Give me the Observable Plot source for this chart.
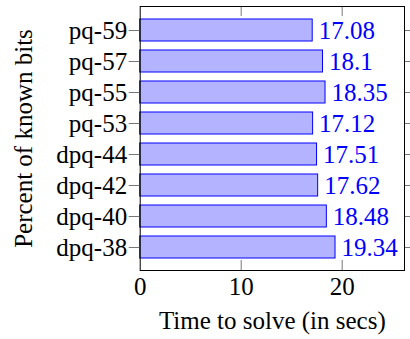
<!DOCTYPE html>
<html><head><meta charset="utf-8">
<script src="https://cdn.jsdelivr.net/npm/d3@7"></script>
<script src="https://cdn.jsdelivr.net/npm/@observablehq/plot@0.6"></script>
<style>html,body{margin:0;padding:0;background:#fff} svg{display:block} svg text{font-family:"Liberation Serif", serif}</style>
</head><body><div id="chart"></div>
<script>
const categories = ["dpq-38","dpq-40","dpq-42","dpq-44","pq-53","pq-55","pq-57","pq-59"];
const times = [19.34, 18.48, 17.62, 17.51, 17.12, 18.35, 18.1, 17.08];
const valueLabels = ["19.34","18.48","17.62","17.51","17.12","18.35","18.1","17.08"];
const xTicks = [0, 10, 20];
const xLabel = "Time to solve (in secs)";
const yLabel = "Percent of known bits";

const data = categories.map((c, i) => ({cat: c, t: times[i], label: valueLabels[i]}));
const font = "Liberation Serif";
const fs = 25;

const chart = Plot.plot({
  width: 410, height: 339,
  marginLeft: 139.7, marginRight: 6, marginTop: 6, marginBottom: 69,
  style: {fontFamily: font, fontSize: fs + "px", background: "white", color: "black"},
  x: {domain: [0, 26.17], axis: null},
  y: {domain: categories.slice().reverse(), paddingInner: 0.3, paddingOuter: 0.365, axis: null},
  marks: [
    Plot.barX(data, {x: "t", y: "cat", fill: "#b3b3ff", stroke: "#0000ff", strokeWidth: 1}),
    Plot.text(data, {x: "t", y: "cat", text: "label", textAnchor: "start", dx: 6, fill: "#0000ff", fontSize: fs, fontFamily: font}),
    Plot.tickX(xTicks.slice(1), {x: d => d, insetBottom: 254, stroke: "#777"}),
    Plot.tickX(xTicks.slice(1), {x: d => d, insetTop: 254, stroke: "#777"}),
    Plot.axisX({anchor: "bottom", ticks: xTicks, tickSize: 0, tickPadding: 7, label: null, fontSize: fs, fontFamily: font, fill: "black"}),
    Plot.axisY({anchor: "left", tickSize: 11, tickPadding: 2, stroke: "#777", fill: "black", label: null, fontSize: fs, fontFamily: font}),
    Plot.axisY({anchor: "right", tickSize: 10, tickFormat: () => "", stroke: "#777", label: null}),
    Plot.text([xLabel], {frameAnchor: "bottom", textAnchor: "middle", dy: 58, lineAnchor: "bottom", fontSize: fs, fontFamily: font, fill: "black"}),
    Plot.text([yLabel], {frameAnchor: "left", textAnchor: "middle", rotate: -90, dx: -108, dy: 0, lineAnchor: "bottom", fontSize: fs, fontFamily: font, fill: "black"}),
    Plot.frame({stroke: "black", strokeWidth: 1})
  ]
});
document.getElementById("chart").appendChild(chart);
</script>
</body></html>
